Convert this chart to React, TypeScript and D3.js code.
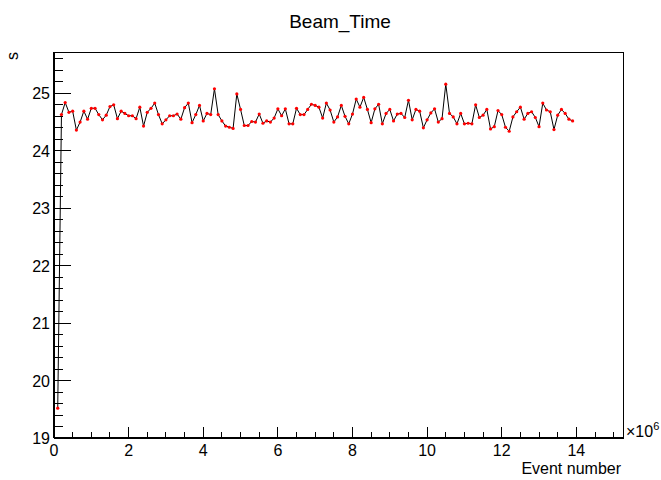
import React from "react";
import * as d3 from "d3";

const eventNumbers = [
  0.1, 0.2, 0.3, 0.4, 0.5, 0.6, 0.7, 0.8, 0.9, 1.0,
  1.1, 1.2, 1.3, 1.4, 1.5, 1.6, 1.7, 1.8, 1.9, 2.0,
  2.1, 2.2, 2.3, 2.4, 2.5, 2.6, 2.7, 2.8, 2.9, 3.0,
  3.1, 3.2, 3.3, 3.4, 3.5, 3.6, 3.7, 3.8, 3.9, 4.0,
  4.1, 4.2, 4.3, 4.4, 4.5, 4.6, 4.7, 4.8, 4.9, 5.0,
  5.1, 5.2, 5.3, 5.4, 5.5, 5.6, 5.7, 5.8, 5.9, 6.0,
  6.1, 6.2, 6.3, 6.4, 6.5, 6.6, 6.7, 6.8, 6.9, 7.0,
  7.1, 7.2, 7.3, 7.4, 7.5, 7.6, 7.7, 7.8, 7.9, 8.0,
  8.1, 8.2, 8.3, 8.4, 8.5, 8.6, 8.7, 8.8, 8.9, 9.0,
  9.1, 9.2, 9.3, 9.4, 9.5, 9.6, 9.7, 9.8, 9.9, 10.0,
  10.1, 10.2, 10.3, 10.4, 10.5, 10.6, 10.7, 10.8, 10.9, 11.0,
  11.1, 11.2, 11.3, 11.4, 11.5, 11.6, 11.7, 11.8, 11.9, 12.0,
  12.1, 12.2, 12.3, 12.4, 12.5, 12.6, 12.7, 12.8, 12.9, 13.0,
  13.1, 13.2, 13.3, 13.4, 13.5, 13.6, 13.7, 13.8, 13.9,
];

const beamTimes = [
  19.52, 24.63, 24.84, 24.67, 24.69, 24.36, 24.50, 24.69, 24.55, 24.74,
  24.74, 24.63, 24.54, 24.62, 24.77, 24.80, 24.56, 24.69, 24.65, 24.61,
  24.61, 24.56, 24.76, 24.43, 24.67, 24.74, 24.83, 24.63, 24.47, 24.54,
  24.61, 24.61, 24.64, 24.55, 24.75, 24.83, 24.49, 24.63, 24.79, 24.52,
  24.65, 24.63, 25.08, 24.63, 24.52, 24.43, 24.41, 24.39, 24.99, 24.72,
  24.44, 24.44, 24.51, 24.50, 24.64, 24.48, 24.52, 24.50, 24.57, 24.73,
  24.61, 24.73, 24.47, 24.47, 24.74, 24.63, 24.63, 24.72, 24.81, 24.79,
  24.76, 24.57, 24.83, 24.71, 24.50, 24.59, 24.79, 24.60, 24.47, 24.64,
  24.90, 24.76, 24.93, 24.72, 24.49, 24.73, 24.81, 24.47, 24.65, 24.72,
  24.52, 24.64, 24.65, 24.58, 24.88, 24.54, 24.72, 24.69, 24.40, 24.54,
  24.66, 24.73, 24.50, 24.56, 25.16, 24.65, 24.59, 24.47, 24.65, 24.47,
  24.48, 24.47, 24.80, 24.58, 24.62, 24.72, 24.38, 24.42, 24.70, 24.63,
  24.41, 24.34, 24.59, 24.68, 24.76, 24.55, 24.65, 24.68, 24.58, 24.42,
  24.83, 24.71, 24.68, 24.37, 24.62, 24.72, 24.65, 24.55, 24.52,
];

const xMajorTicks = [0, 2, 4, 6, 8, 10, 12, 14];
const yMajorTicks = [19, 20, 21, 22, 23, 24, 25];

const chartTitle = "Beam_Time";
const xTitle = "Event number";
const yTitle = "s";

const W = 661;
const H = 480;
const FL = 54;
const FR = 623;
const FT = 52;
const FB = 438;
const FONT = "'Liberation Sans', Arial, Helvetica, sans-serif";

export default function App() {
  const x = d3.scaleLinear().domain([0, 15.25]).range([FL, FR]);
  const y = d3.scaleLinear().domain([19, 25.72]).range([FB, FT]);

  const xMinor = d3.range(0, 15.25 + 1e-9, 0.5).filter((v) => Math.abs(v / 2 - Math.round(v / 2)) > 1e-6);
  const yMinor = d3.range(19, 25.72, 0.2).filter((v) => Math.abs(v - Math.round(v)) > 1e-6);

  const pts = eventNumbers.map((e, i) => [e, beamTimes[i]] as [number, number]);
  const line = d3
    .line<[number, number]>()
    .x((d) => x(d[0]))
    .y((d) => y(d[1]));

  const majorY = 17;
  const minorY = 9;
  const majorX = 11;
  const minorX = 6;

  return (
    <svg
      width={W}
      height={H}
      style={{ position: "absolute", left: 0, top: 0, background: "#fff" }}
      fontFamily={FONT}
    >
      <rect x={0} y={0} width={W} height={H} fill="#fff" />
      <text x={340} y={28} textAnchor="middle" fontSize={19} fill="#000">
        {chartTitle}
      </text>

      {/* frame */}
      <rect
        x={FL}
        y={FT}
        width={FR - FL}
        height={FB - FT}
        fill="none"
        stroke="#000"
        strokeWidth={1}
        shapeRendering="crispEdges"
      />
      <line x1={FL} x2={FL} y1={FT} y2={FB} stroke="#000" strokeWidth={1.5} shapeRendering="crispEdges" />
      <line x1={FL} x2={FR} y1={FB} y2={FB} stroke="#000" strokeWidth={1.5} shapeRendering="crispEdges" />

      {/* y ticks */}
      {yMajorTicks.map((t) => (
        <g key={"ym" + t}>
          <line x1={FL} x2={FL + majorY} y1={y(t)} y2={y(t)} stroke="#000" shapeRendering="crispEdges" />
          <text x={50} y={y(t) + 6} textAnchor="end" fontSize={16} fill="#000">
            {t}
          </text>
        </g>
      ))}
      {yMinor.map((t) => (
        <line key={"yn" + t} x1={FL} x2={FL + minorY} y1={y(t)} y2={y(t)} stroke="#000" shapeRendering="crispEdges" />
      ))}

      {/* x ticks */}
      {xMajorTicks.map((t) => (
        <g key={"xm" + t}>
          <line x1={x(t)} x2={x(t)} y1={FB} y2={FB - majorX} stroke="#000" shapeRendering="crispEdges" />
          <text x={x(t)} y={456} textAnchor="middle" fontSize={16} fill="#000">
            {t}
          </text>
        </g>
      ))}
      {xMinor.map((t) => (
        <line key={"xn" + t} x1={x(t)} x2={x(t)} y1={FB} y2={FB - minorX} stroke="#000" shapeRendering="crispEdges" />
      ))}

      <text x={626} y={437} fontSize={16} fill="#000">
        ×10
        <tspan dy={-7} fontSize={11}>
          6
        </tspan>
      </text>

      <text x={621} y={474} textAnchor="end" fontSize={16} fill="#000">
        {xTitle}
      </text>
      <text
        transform={`translate(18,52) rotate(-90)`}
        textAnchor="end"
        fontSize={16}
        fill="#000"
      >
        {yTitle}
      </text>

      {/* data */}
      <path d={line(pts) || ""} fill="none" stroke="#000" strokeWidth={1} />
      {pts.map((p, i) => (
        <circle key={i} cx={x(p[0])} cy={y(p[1])} r={1.6} fill="#ff0000" />
      ))}
    </svg>
  );
}
